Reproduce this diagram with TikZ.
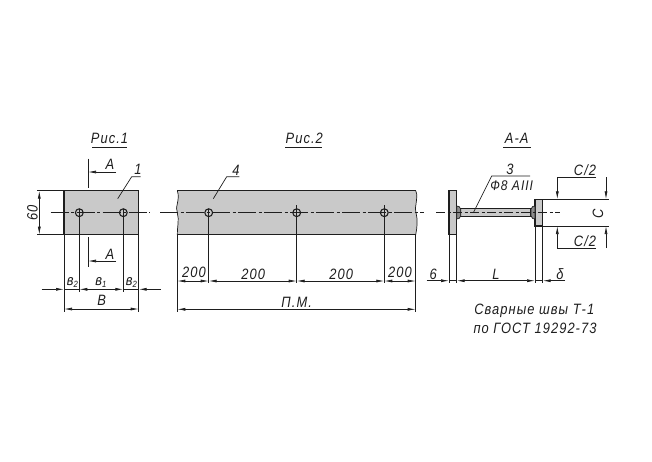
\documentclass[tikz,border=0pt]{standalone}
\usepackage{fontspec}
\setmainfont{Liberation Sans}[FakeStretch=0.86,LetterSpace=7]
\usetikzlibrary{arrows.meta}
\definecolor{plategray}{HTML}{C9C9C9}
\definecolor{weldgray}{HTML}{8C8C8C}
\definecolor{inkline}{HTML}{1E1E1E}
\tikzset{
  thick line/.style={draw=inkline,line width=1.2pt},
  thin line/.style={draw=inkline,line width=0.7pt},
  center line/.style={draw=inkline,line width=0.7pt,dash pattern=on 18pt off 2.5pt on 3pt off 2.5pt},
  dimarrow/.style={thin line,{Latex[length=8pt,width=3pt]}-{Latex[length=8pt,width=3pt]}},
  endarrow/.style={thin line,-{Latex[length=8pt,width=3pt]}},
  plate/.style={fill=plategray,thick line},
  hole/.style={draw=inkline,line width=1.1pt,circle,inner sep=0pt,minimum size=7.8pt},
  lbl/.style={inner sep=0pt,font=\fontsize{15}{17}\selectfont\itshape,text=inkline},
  note/.style={inner sep=0pt,font=\fontsize{15}{17}\selectfont\itshape,text=inkline},
}
\begin{document}
\begin{tikzpicture}[x=1pt,y=-1pt]
\useasboundingbox[fill=white] (0,0) rectangle (652,461);

% ---- Fig. 1
\node[lbl] (t1) at (109.5,138.5) {Рис.1};
\draw[thin line] (92,147.3) -- (126.7,147.3);
\draw[plate] (64,190.7) rectangle (138.7,234.7);
\draw[center line] (50.7,212.7) -- (149.3,212.7);
\node[hole] (h1) at (79.3,212.7) {};
\node[hole] (h2) at (123.3,212.7) {};
% section marks
\draw[thin line,line width=0.9pt] (88,158.7) -- (88,188);
\draw[thin line,line width=0.9pt] (88,237.3) -- (88,266.7);
\coordinate (a1) at (116,172); \coordinate (a1t) at (88,172);
\coordinate (a2) at (116,261); \coordinate (a2t) at (88,261);
\draw[endarrow] (a1) -- (a1t);
\draw[endarrow] (a2) -- (a2t);
\node[lbl] (la1) at (110,164.5) {А};
\node[lbl] (la2) at (110,254) {А};
% leader 1
\draw[thin line] (117.7,198.7) -- (131.7,176.7) -- (140.7,176.7);
\node[lbl] (l1) at (138,169.5) {1};
% dim 60
\draw[thin line] (37.3,190.7) -- (64,190.7);
\draw[thin line] (37.3,234.7) -- (64,234.7);
\draw[dimarrow] (39.3,190.7) -- (39.3,234.7);
\node[lbl,rotate=90] (l60) at (32.5,213) {60};
% extension lines
\draw[thin line] (64,234.7) -- (64,311.7);
\draw[thin line] (138.7,234.7) -- (138.7,311.7);
\draw[thin line] (79.3,208.5) -- (79.3,292);
\draw[thin line] (123.3,208.5) -- (123.3,292);
% dims
\draw[thin line] (64,289.3) -- (79.3,289.3);
\draw[thin line] (123.3,289.3) -- (138.7,289.3);
\draw[endarrow] (41.7,289.3) -- (64,289.3);
\draw[endarrow] (160.7,289.3) -- (138.7,289.3);
\draw[dimarrow] (79.3,289.3) -- (123.3,289.3);
\draw[dimarrow] (64,309) -- (138.7,309);
\node[lbl] (lb1) at (72.3,282) {в\raisebox{-2pt}{\fontsize{9}{9}\selectfont 2}};
\node[lbl] (lb2) at (101,282) {в\raisebox{-2pt}{\fontsize{9}{9}\selectfont 1}};
\node[lbl] (lb3) at (131.3,282) {в\raisebox{-2pt}{\fontsize{9}{9}\selectfont 2}};
\node[lbl] (lb) at (101.7,300.7) {В};

% ---- Fig. 2
\node[lbl] (t2) at (304.3,138.5) {Рис.2};
\draw[thin line] (285,147.3) -- (322.3,147.3);
\fill[plategray] (177.3,190.7) .. controls (180.5,200) and (174.5,207) .. (177.3,212.7) .. controls (179.5,220) and (177,228) .. (177.3,234.7)
  -- (415.7,234.7) .. controls (417,228) and (418,220) .. (416,212.7) .. controls (414,205) and (419,198) .. (415.7,190.7) -- cycle;
\draw[thin line] (177.3,190.7) .. controls (180.5,200) and (174.5,207) .. (177.3,212.7) .. controls (179.5,220) and (177,228) .. (177.3,234.7);
\draw[thin line] (415.7,234.7) .. controls (417,228) and (418,220) .. (416,212.7) .. controls (414,205) and (419,198) .. (415.7,190.7);
\draw[thick line] (177.3,190.7) -- (415.7,190.7);
\draw[thick line] (177.3,234.7) -- (415.7,234.7);
\draw[center line] (160,212.7) -- (424,212.7);
\node[hole] (h3) at (208.7,212.7) {};
\node[hole] (h4) at (296.7,212.7) {};
\node[hole] (h5) at (384.3,212.7) {};
\draw[thin line] (208.7,208.5) -- (208.7,283.3);
\draw[thin line] (296.7,205) -- (296.7,283.3);
\draw[thin line] (384.3,205) -- (384.3,283.3);
\draw[thin line] (177.3,234.7) -- (177.3,311.7);
\draw[thin line] (415.7,234.7) -- (415.7,311.7);
\draw[thin line] (213.3,198.7) -- (226.7,176.7) -- (239.3,176.7);
\node[lbl] (l4) at (236,170) {4};
\draw[dimarrow] (177.3,281) -- (208.7,281);
\draw[dimarrow] (208.7,281) -- (296.7,281);
\draw[dimarrow] (296.7,281) -- (384.3,281);
\draw[dimarrow] (384.3,281) -- (415.7,281);
\draw[dimarrow] (177.3,309.3) -- (415.7,309.3);
\node[lbl] (d1) at (194,272.7) {200};
\node[lbl] (d2) at (253.3,274) {200};
\node[lbl] (d3) at (341.3,274) {200};
\node[lbl] (d4) at (400,272.7) {200};
\node[lbl] (pm) at (296.7,302.3) {П.М.};

% ---- Section A-A
\node[lbl] (t3) at (516.7,138.5) {А-А};
\draw[thin line] (503.3,147.3) -- (530.7,147.3);
\draw[plate] (449,190.7) rectangle (456.7,234.7);
\draw[plate] (535,199.3) rectangle (542.7,226);
\draw[fill=plategray,thick line] (460.5,208.3) rectangle (531,216.7);
\draw[fill=weldgray,draw=inkline,line width=0.7pt] (456.7,206) -- (459,206.5) -- (460.7,209) -- (460.7,216) -- (459,218.5) -- (456.7,219) -- cycle;
\draw[fill=weldgray,draw=inkline,line width=0.7pt] (535,206) -- (532.7,206.5) -- (531,209) -- (531,216) -- (532.7,218.5) -- (535,219) -- cycle;
\draw[center line,dash pattern=on 9pt off 2.5pt on 3pt off 2.5pt] (436,212.7) -- (560,212.7);
% leader 3
\draw[thin line] (473.3,212.7) -- (491.7,176) -- (530,176);
\node[lbl] (l3) at (510,169.5) {3};
\node[lbl,font=\fontsize{14}{16}\selectfont\itshape] (l8) at (511.7,185.3) {Ф8 АIII};
% C dims
\draw[thin line] (542.7,199.3) -- (609.3,199.3);
\draw[thin line] (542.7,226) -- (609.3,226);
\draw[endarrow] (606,177.3) -- (606,199.3);
\draw[endarrow] (606,248) -- (606,226);
\draw[thin line] (596,177.3) -- (557.3,177.3);
\draw[thin line] (596,248.3) -- (557.3,248.3);
\draw[endarrow] (557.3,177.3) -- (557.3,199.3);
\draw[endarrow] (557.3,248.3) -- (557.3,226);
\node[lbl] (c1) at (585,170.5) {С/2};
\node[lbl] (c2) at (585,241.2) {С/2};
\node[lbl,rotate=90] (c3) at (598,214.3) {С};
% bottom dims
\draw[thin line] (449,234.7) -- (449,283.3);
\draw[thin line] (456.7,234.7) -- (456.7,283.3);
\draw[thin line] (535,226) -- (535,283.3);
\draw[thin line] (542.7,226) -- (542.7,283.3);
\draw[thin line] (449,280.7) -- (456.7,280.7);
\draw[thin line] (535,280.7) -- (542.7,280.7);
\draw[endarrow] (426.7,280.7) -- (449,280.7);
\draw[endarrow] (565,280.7) -- (542.7,280.7);
\draw[dimarrow] (456.7,280.7) -- (535,280.7);
\node[lbl] (d6) at (433.3,274) {6};
\node[lbl] (dl) at (496,274) {L};
\node[lbl] (dd) at (560,274) {δ};
% note
\node[note] (n1) at (534.3,311) {Сварные швы Т-1};
\node[note] (n2) at (535,328.3) {по ГОСТ 19292-73};
\end{tikzpicture}
\end{document}
